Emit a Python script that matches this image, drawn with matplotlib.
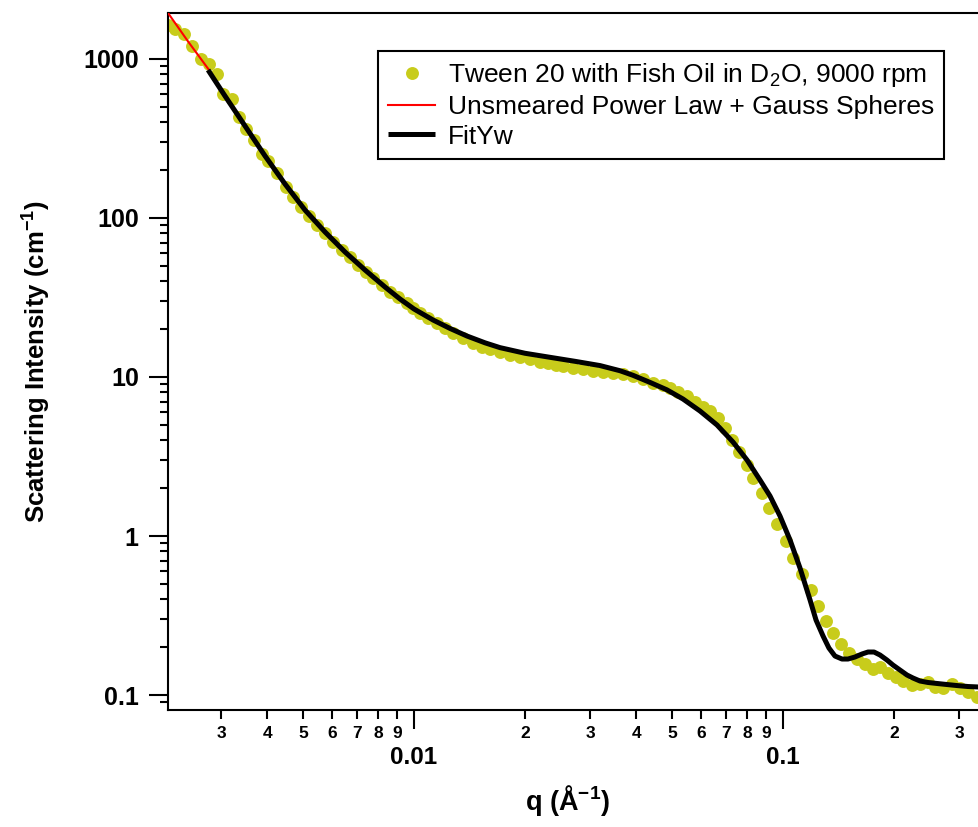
import numpy as np
import matplotlib
matplotlib.use("Agg")
import matplotlib.pyplot as plt
from matplotlib.ticker import LogLocator, FuncFormatter, NullFormatter

# Measured SANS data: Tween 20 with fish oil in D2O, 9000 rpm
q_data = [0.002154, 0.002251, 0.002381, 0.002503, 0.002647, 0.002783, 0.002925, 0.003037,
          0.003212, 0.003355, 0.003504, 0.003684, 0.003873, 0.004020, 0.004253, 0.004498,
          0.004700, 0.004940, 0.005193, 0.005459, 0.005739, 0.006033, 0.006381, 0.006707,
          0.007051, 0.007412, 0.007743, 0.008189, 0.008610, 0.009050, 0.009572, 0.009938,
          0.01038, 0.01091, 0.01154, 0.01213, 0.01276, 0.01358, 0.01445, 0.01528,
          0.01607, 0.01710, 0.01820, 0.01937, 0.02062, 0.02194, 0.02307, 0.02425,
          0.02534, 0.02697, 0.02871, 0.03055, 0.03252, 0.03461, 0.03684, 0.03921,
          0.04173, 0.04442, 0.04728, 0.04940, 0.05193, 0.05494, 0.05775, 0.06070,
          0.06342, 0.06665, 0.06963, 0.07275, 0.07600, 0.07989, 0.08294, 0.08772,
          0.09165, 0.09632, 0.1019, 0.1064, 0.1126, 0.1191, 0.1244, 0.1308,
          0.1366, 0.1436, 0.1510, 0.1587, 0.1668, 0.1754, 0.1832, 0.1926,
          0.2024, 0.2115, 0.2237, 0.2351, 0.2472, 0.2582, 0.2714, 0.2871,
          0.3018, 0.3173, 0.3355]
i_data = [1636, 1544, 1436, 1207, 1000, 930.2, 804.8, 602.5,
          560.3, 431.7, 362.7, 309.5, 252.6, 228.3, 191.9, 156.7,
          135.6, 117.3, 102.9, 90.36, 80.48, 70.65, 62.91, 56.85,
          50.62, 45.75, 41.94, 37.90, 34.25, 31.85, 29.20, 27.16,
          25.26, 23.50, 21.86, 20.33, 18.91, 17.59, 16.36, 15.44,
          15.00, 14.36, 13.75, 13.36, 12.98, 12.43, 12.25, 11.98,
          11.73, 11.39, 11.23, 10.91, 10.75, 10.60, 10.44, 10.15,
          9.714, 9.168, 8.906, 8.527, 8.048, 7.595, 6.963, 6.476,
          6.111, 5.523, 4.778, 4.016, 3.376, 2.796, 2.316, 1.864,
          1.500, 1.190, 0.9302, 0.7273, 0.5768, 0.4575, 0.3628, 0.2920,
          0.2454, 0.2093, 0.1837, 0.1684, 0.1567, 0.1457, 0.1500, 0.1375,
          0.1298, 0.1225, 0.1156, 0.1173, 0.1207, 0.1123, 0.1107, 0.1173,
          0.1107, 0.1044, 0.0971]

# Unsmeared model (power law + Gaussian spheres), low-q segment
q_unsmeared = [0.002154, 0.002441, 0.002783]
i_unsmeared = [1947, 1289, 852.7]

# Smeared fit
q_fit = [0.002766, 0.003074, 0.003484, 0.003948, 0.004471, 0.005064, 0.005739, 0.006501,
         0.007366, 0.008345, 0.009164, 0.01000, 0.01126, 0.01252, 0.01392, 0.01558,
         0.01710, 0.01999, 0.02336, 0.02731, 0.03192, 0.03617, 0.03921, 0.04360,
         0.04847, 0.05358, 0.05958, 0.06625, 0.07319, 0.07989, 0.08663, 0.09222,
         0.09815, 0.1045, 0.1112, 0.1184, 0.1229, 0.1284, 0.1332, 0.1383,
         0.1445, 0.1500, 0.1567, 0.1637, 0.1700, 0.1765, 0.1832, 0.1913,
         0.1986, 0.2075, 0.2168, 0.2251, 0.2351, 0.2472, 0.2614, 0.2783,
         0.2961, 0.3173, 0.3398]
i_fit = [852.7, 585.4, 378.9, 245.4, 163.6, 112.3, 81.66, 61.12,
         47.10, 36.81, 30.94, 26.77, 22.83, 20.20, 18.10, 16.40,
         15.30, 14.10, 13.30, 12.55, 11.80, 10.95, 10.25, 9.250,
         8.300, 7.270, 6.111, 4.991, 3.901, 3.006, 2.250, 1.785,
         1.336, 0.9437, 0.6290, 0.3959, 0.2962, 0.2350, 0.1975, 0.1759,
         0.1684, 0.1684, 0.1734, 0.1811, 0.1864, 0.1864, 0.1785, 0.1660,
         0.1544, 0.1436, 0.1336, 0.1279, 0.1225, 0.1199, 0.1182, 0.1164,
         0.1147, 0.1131, 0.1123]

x_limits = (0.002154, 0.3398)
y_limits = (0.0805, 1946)

plt.rcParams['font.family'] = ['Liberation Sans', 'DejaVu Sans']
plt.rcParams['font.weight'] = 'bold'
plt.rcParams['mathtext.default'] = 'regular'

fig = plt.figure(figsize=(9.79, 8.27), dpi=100)
ax = fig.add_axes([168 / 979, 1 - 710 / 827, 811 / 979, 697 / 827])

ax.plot(q_data, i_data, 'o', color='#c8cc1b', ms=9.3, mec='none',
        label='Tween 20 with Fish Oil in D$_2$O, 9000 rpm', zorder=2)
ax.plot(q_unsmeared, i_unsmeared, color='#ff0000', lw=1.5,
        label='Unsmeared Power Law + Gauss Spheres', zorder=3)
ax.plot(q_fit, i_fit, color='black', lw=3.6, solid_capstyle='butt',
        solid_joinstyle='round', label='FitYw', zorder=4)

ax.set_xscale('log')
ax.set_yscale('log')
ax.set_xlim(*x_limits)
ax.set_ylim(*y_limits)

ax.xaxis.set_major_locator(LogLocator(base=10))
ax.xaxis.set_minor_locator(LogLocator(base=10, subs=np.arange(2, 10)))
ax.xaxis.set_major_formatter(FuncFormatter(lambda v, p: f'{v:g}'))
ax.xaxis.set_minor_formatter(FuncFormatter(
    lambda v, p: str(int(round(v / 10 ** np.floor(np.log10(v) + 1e-9))))))
ax.yaxis.set_major_locator(LogLocator(base=10))
ax.yaxis.set_minor_locator(LogLocator(base=10, subs=np.arange(2, 10)))
ax.yaxis.set_major_formatter(FuncFormatter(lambda v, p: f'{v:g}'))
ax.yaxis.set_minor_formatter(NullFormatter())

for side in ('top', 'left', 'bottom'):
    ax.spines[side].set_linewidth(1.5)
ax.spines['right'].set_visible(False)

ax.tick_params(axis='x', which='major', direction='out', length=13.7, width=1.5,
               labelsize=17.5, pad=12)
ax.tick_params(axis='x', which='minor', direction='out', length=6.5, width=1.5,
               labelsize=12.5, pad=5)
ax.tick_params(axis='y', which='major', direction='out', length=14, width=1.5,
               labelsize=18, pad=7)
ax.tick_params(axis='y', which='minor', direction='out', length=6, width=1.5)

ax.set_ylabel('Scattering Intensity (cm$^{-1}$)', fontsize=18.5, fontweight='bold')
ax.yaxis.label.set(rotation_mode='default', va='center')
ax.yaxis.set_label_coords(-0.162, 0.5)
ax.set_xlabel('q (Å$^{-1}$)', fontsize=19.5, fontweight='bold')
ax.xaxis.label.set(va='center')
ax.xaxis.set_label_coords(0.492, -0.13)

leg = ax.legend(loc='upper left', bbox_to_anchor=(378 / 979, 1 - 51 / 827),
                bbox_transform=fig.transFigure, borderaxespad=0,
                prop={'family': ['Liberation Sans', 'DejaVu Sans'], 'weight': 'normal', 'size': 19},
                fancybox=False, framealpha=1, edgecolor='black',
                handlelength=1.78, handletextpad=0.5, borderpad=0.38,
                labelspacing=0.22, numpoints=1)
leg.get_frame().set_linewidth(1.5)

fig.savefig('out.png', dpi=100)
